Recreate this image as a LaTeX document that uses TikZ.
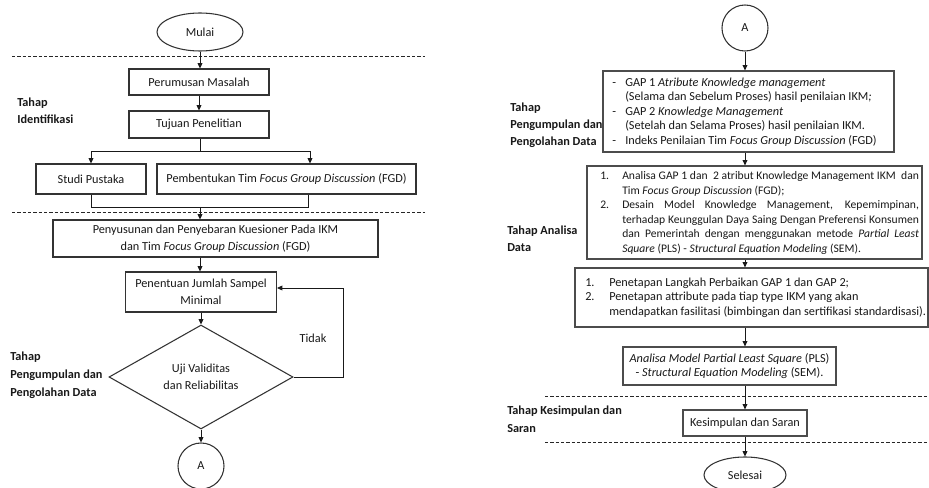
\documentclass[tikz,border=0pt]{standalone}
\usepackage{fontspec}
\setmainfont{Carlito}
\usetikzlibrary{shapes.geometric,arrows.meta,calc}
\begin{document}
\begin{tikzpicture}[x=0.75pt,y=-0.75pt,
  every node/.style={font=\fontsize{9.2}{12.4}\selectfont, text=black!90},
  sz/.style 2 args={minimum width=#1*0.75pt, minimum height=#2*0.75pt},
  box/.style={draw=black!80, line width=0.8pt, inner sep=0pt, align=center},
  rbox/.style={draw=black!70, line width=0.9pt, inner sep=0pt},
  rtext/.style={inner sep=0pt, anchor=west, font=\fontsize{9.2}{10.9}\selectfont},
  arr/.style={-{Triangle[length=4pt,width=3.6pt]}, line width=0.6pt, draw=black!90},
  ln/.style={line width=0.6pt, draw=black!90},
  sepline/.style={line width=0.5pt, dash pattern=on 2.5pt off 1.5pt, draw=black!85},
  lbl/.style={font=\fontsize{9.2}{13}\selectfont\bfseries, align=left, anchor=west, inner sep=0pt},
]
\useasboundingbox (0,0) rectangle (929,488);
\clip (0,0) rectangle (929,488);
\fill[white] (0,0) rectangle (929,488);

% ---------- left column ----------
\draw[sepline] (12,56) -- (425,56);
\draw[sepline] (12,212) -- (425,212);

\node[ellipse, draw=black!80, line width=0.8pt, sz={86}{38}, inner sep=0pt] (mulai) at (200,32) {Mulai};
\node[box, sz={140}{26}] (perumusan) at (199,82) {Perumusan Masalah};
\node[box, sz={140}{27}] (tujuan) at (199,124.5) {Tujuan Penelitian};
\node[box, sz={110}{30}] (studi) at (91,179) {Studi Pustaka};
\node[box, sz={259}{30}] (fgd) at (286.5,179) {Pembentukan Tim \textit{Focus Group Discussion} (FGD)};
\node[box, sz={325}{37}] (penyusunan) at (215.5,238.5) {Penyusunan dan Penyebaran Kuesioner Pada IKM\\dan Tim \textit{Focus Group Discussion} (FGD)};
\node[box, sz={151}{40}] (penentuan) at (201,292) {Penentuan Jumlah Sampel\\Minimal};
\node[diamond, draw=black!80, line width=0.8pt, sz={184}{104}, inner sep=0pt, align=center] (uji) at (201,377) {Uji Validitas\\dan Reliabilitas};
\node[circle, draw=black!80, line width=0.8pt, minimum size=46*0.75pt, inner sep=0pt] (a1) at (201,466) {A};
\node (tidak) at (313,338) {Tidak};

\node[lbl] (l1) at (17,110.5) {Tahap\\Identifikasi};
\node[lbl, font=\fontsize{9.2}{13.5}\selectfont\bfseries] (l2) at (10,375) {Tahap\\Pengumpulan dan\\Pengolahan Data};

\coordinate (split) at (200,151);
\coordinate (fgdin) at (310,151);
\coordinate (merge) at (200,207);
\coordinate (fgdout) at (308,207);
\coordinate (loop) at (343,377);
\coordinate (ret) at (343,288);

\draw[arr] (mulai.south) -- (mulai.south |- perumusan.north);
\draw[arr] (perumusan.south) -- (perumusan.south |- tujuan.north);
\draw[ln] (split |- tujuan.south) -- (split);
\draw[arr] (split) -| (studi.north);
\draw[arr] (split) -- (fgdin) -- (fgdin |- fgd.north);
\draw[ln] (studi.south) -- (studi.south |- merge) -- (fgdout) -- (fgdout |- fgd.south);
\draw[arr] (merge) -- (merge |- penyusunan.north);
\draw[arr] (merge |- penyusunan.south) -- (merge |- penentuan.north);
\draw[arr] (penentuan.south) -- (uji.north);
\draw[arr] (uji.east) -- (loop) -- (ret) -- (penentuan.east |- ret);
\draw[arr] (uji.south) -- (a1.north);

% ---------- right column ----------
\draw[sepline] (545,396) -- (929,396);
\draw[sepline] (545,442) -- (929,442);

\coordinate (rx) at (745,0);
\node[circle, draw=black!80, line width=0.8pt, minimum size=46*0.75pt, inner sep=0pt] (a2) at (745,28) {A};

\node[rbox, sz={291}{81}] (b1) at (748.5,111.5) {};
\node[rtext] (t1) at (612,112.5) {%
\begin{tabular}{@{}p{9.75pt}@{}l@{}}
- & GAP 1 \textit{Atribute Knowledge management}\\
  & (Selama dan Sebelum Proses) hasil penilaian IKM\textit{;}\\
- & GAP 2 \textit{Knowledge Management}\\
  & (Setelah dan Selama Proses) hasil penilaian IKM.\\
- & Indeks Penilaian Tim \textit{Focus Group Discussion} (FGD)
\end{tabular}};

\node[rbox, sz={335}{93}] (b2) at (754.5,212.5) {};
\node[rtext, text width=239pt, align=justify, font=\fontsize{8.7}{10.9}\selectfont] (t2) at (600,213) {%
\noindent\hangindent=16.5pt\hangafter=1\makebox[16.5pt][l]{1.}Analisa GAP 1 dan \ 2 atribut Knowledge Management IKM \ dan\linebreak
Tim \textit{Focus Group Discussion} (FGD);\par
\noindent\hangindent=16.5pt\hangafter=1\makebox[16.5pt][l]{2.}Desain Model Knowledge Management, Kepemimpinan,\linebreak
terhadap Keunggulan Daya Saing Dengan Preferensi Konsumen\linebreak
dan Pemerintah dengan menggunakan metode \textit{Partial Least}\linebreak
\textit{Square} (PLS) - \textit{Structural Equation Modeling} (SEM).\par};

\node[rbox, sz={353}{59}] (b3) at (751.5,297.5) {};
\node[rtext] (t3) at (585,298) {%
\begin{tabular}{@{}p{18pt}@{}l@{}}
1. & Penetapan Langkah Perbaikan GAP 1 dan GAP 2;\\
2. & Penetapan attribute pada tiap type IKM yang akan\\
   & mendapatkan fasilitasi (bimbingan dan sertifikasi standardisasi).
\end{tabular}};

\node[rbox, sz={213}{38}, align=center, font=\fontsize{9.2}{10.9}\selectfont] (b4) at (729.5,366) {\textit{Analisa Model Partial Least Square} (PLS)\\- \textit{Structural Equation Modeling} (SEM).};

\node[rbox, sz={124}{26}] (b5) at (745,423) {Kesimpulan dan Saran};
\node[ellipse, draw=black!80, line width=0.8pt, sz={82}{36}, inner sep=0pt] (selesai) at (745,475) {Selesai};

\node[lbl, font=\fontsize{9.2}{12.8}\selectfont\bfseries] (r1) at (510,125) {Tahap\\Pengumpulan dan\\Pengolahan Data};
\node[lbl, font=\fontsize{9.2}{12.8}\selectfont\bfseries] (r2) at (507,238.5) {Tahap Analisa\\Data};
\node[lbl, font=\fontsize{9.2}{13.5}\selectfont\bfseries] (r3) at (507,419) {Tahap Kesimpulan dan\\Saran};

\draw[arr] (a2.south) -- (rx |- b1.north);
\draw[arr] (rx |- b1.south) -- (rx |- b2.north);
\draw[arr] (rx |- b2.south) -- (rx |- b3.north);
\draw[arr] (rx |- b3.south) -- (rx |- b4.north);
\draw[arr] (rx |- b4.south) -- (b5.north);
\draw[arr] (b5.south) -- (selesai.north);
\end{tikzpicture}
\end{document}
